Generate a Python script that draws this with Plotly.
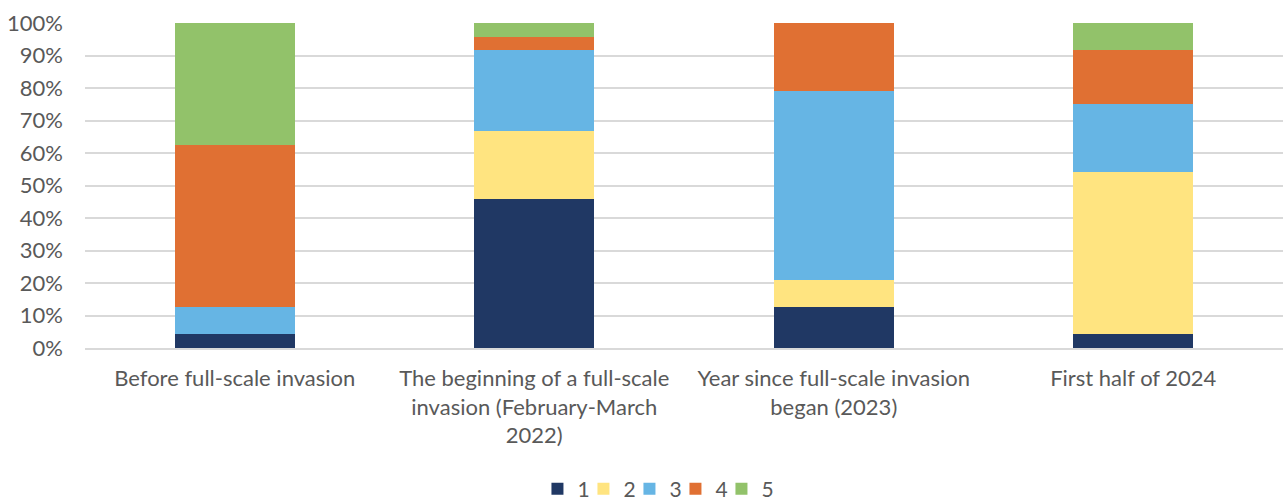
import plotly.graph_objects as go

categories = [
    "Before full-scale invasion",
    "The beginning of a full-scale<br>invasion (February-March<br>2022)",
    "Year since full-scale invasion<br>began (2023)",
    "First half of 2024",
]
series_names = ["1", "2", "3", "4", "5"]
s1 = [4.17, 45.83, 12.5, 4.17]
s2 = [0.0, 20.83, 8.33, 50.0]
s3 = [8.33, 25.0, 58.33, 20.83]
s4 = [50.0, 4.17, 20.83, 16.67]
s5 = [37.5, 4.17, 0.0, 8.33]
series_values = [s1, s2, s3, s4, s5]
colors = ["#203864", "#FFE480", "#66B5E4", "#E07033", "#92C26A"]
y_ticks = [0, 10, 20, 30, 40, 50, 60, 70, 80, 90, 100]

fig = go.Figure()
for i, (name, vals, col) in enumerate(zip(series_names, series_values, colors)):
    fig.add_trace(go.Bar(
        x=categories, y=vals, name=name,
        marker=dict(color=col, line=dict(width=0)),
        width=0.4,
        legendwidth=(20 if i == len(series_names) - 1 else None),
    ))

font_family = "Lato, 'Open Sans', sans-serif"
fig.update_layout(
    barmode="stack",
    width=1288, height=500,
    margin=dict(l=85, r=5, t=23, b=152, autoexpand=False),
    plot_bgcolor="white", paper_bgcolor="white",
    font=dict(family=font_family, size=22, color="#595959"),
    showlegend=True,
    legend=dict(
        orientation="h", x=0.4816, xanchor="center",
        yref="container", y=0.022, yanchor="middle",
        font=dict(size=21, color="#595959"),
        itemwidth=30, entrywidth=1, entrywidthmode="pixels",
        traceorder="normal",
    ),
)
fig.update_yaxes(
    range=[0, 100], tickvals=y_ticks, ticktext=[f"{v}%" for v in y_ticks],
    showgrid=True, gridcolor="#d9d9d9", gridwidth=1.6,
    zeroline=False, showline=False, ticks="", ticklabelstandoff=21,
    automargin=False, fixedrange=True,
)
fig.update_xaxes(
    showline=True, linecolor="#d9d9d9", linewidth=1.6,
    ticks="", ticklabelstandoff=10, tickangle=0,
    automargin=False, fixedrange=True,
)

fig.write_html("out.html", config={"displayModeBar": False},
               post_script="document.body.style.margin='0px';")
